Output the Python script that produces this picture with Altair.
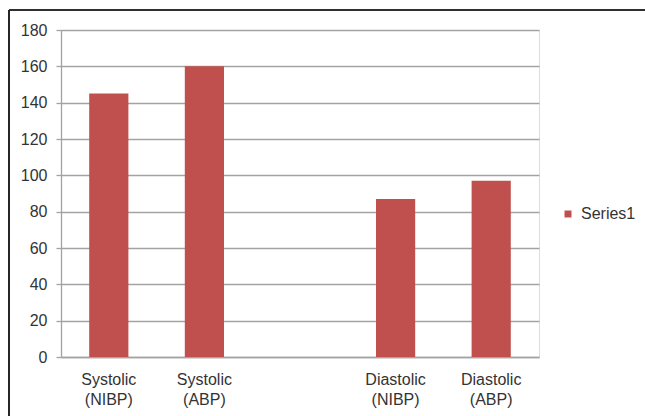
import altair as alt
import pandas as pd

categories = ["Systolic\n(NIBP)", "Systolic\n(ABP)", " ", "Diastolic\n(NIBP)", "Diastolic\n(ABP)"]
bar_categories = ["Systolic\n(NIBP)", "Systolic\n(ABP)", "Diastolic\n(NIBP)", "Diastolic\n(ABP)"]
values = [145, 160, 87, 97]
series = ["Series1"] * 4
y_ticks = [0, 20, 40, 60, 80, 100, 120, 140, 160, 180]

df = pd.DataFrame({"cat": bar_categories, "value": values, "series": series})

FONT = "Liberation Sans"
GRID = "#A3A3A3"

bars = alt.Chart(df).mark_bar(color="#C0504D").encode(
    x=alt.X(
        "cat:N",
        sort=categories,
        scale=alt.Scale(domain=categories, paddingInner=0.59, paddingOuter=0.295),
        axis=alt.Axis(
            title=None,
            labelAngle=0,
            labelExpr="split(datum.label, '\\n')",
            labelLineHeight=20,
            labelFont=FONT,
            labelFontSize=16,
            labelColor="#333333",
            labelPadding=14,
            ticks=False,
            domainColor=GRID,
            domainWidth=1.3,
            grid=False,
        ),
    ),
    y=alt.Y(
        "value:Q",
        scale=alt.Scale(domain=[0, 180], nice=False),
        axis=alt.Axis(
            title=None,
            values=y_ticks,
            labelFont=FONT,
            labelFontSize=16,
            labelColor="#333333",
            labelPadding=9,
            tickSize=5,
            tickColor=GRID,
            tickWidth=1.3,
            domainColor=GRID,
            domainWidth=1.3,
            gridColor=GRID,
            gridWidth=1.3,
        ),
    ),
    fill=alt.Fill(
        "series:N",
        scale=alt.Scale(range=["#C0504D"]),
        legend=alt.Legend(
            title=None,
            orient="none",
            legendX=499,
            legendY=176,
            symbolType="square",
            symbolSize=49,
            symbolStrokeWidth=0,
            labelFont=FONT,
            labelFontSize=16,
            labelColor="#333333",
            labelOffset=5,
            padding=0,
        ),
    ),
)

frame_top = alt.Chart(df).mark_rule(color="#222222", strokeWidth=1.2).encode(
    x=alt.value(-52), x2=alt.value(590), y=alt.value(-20)
)
frame_left = alt.Chart(df).mark_rule(color="#222222", strokeWidth=1.2).encode(
    x=alt.value(-52), y=alt.value(-20), y2=alt.value(390)
)

chart = alt.layer(bars, frame_top, frame_left).properties(
    width=478,
    height=327,
    autosize=alt.AutoSizeParams(type="none"),
    padding={"left": 61, "top": 30, "right": 106, "bottom": 59},
).configure_view(stroke=None).configure(background="white")

chart.save("out.html", embed_options={"renderer": "svg", "actions": False})
